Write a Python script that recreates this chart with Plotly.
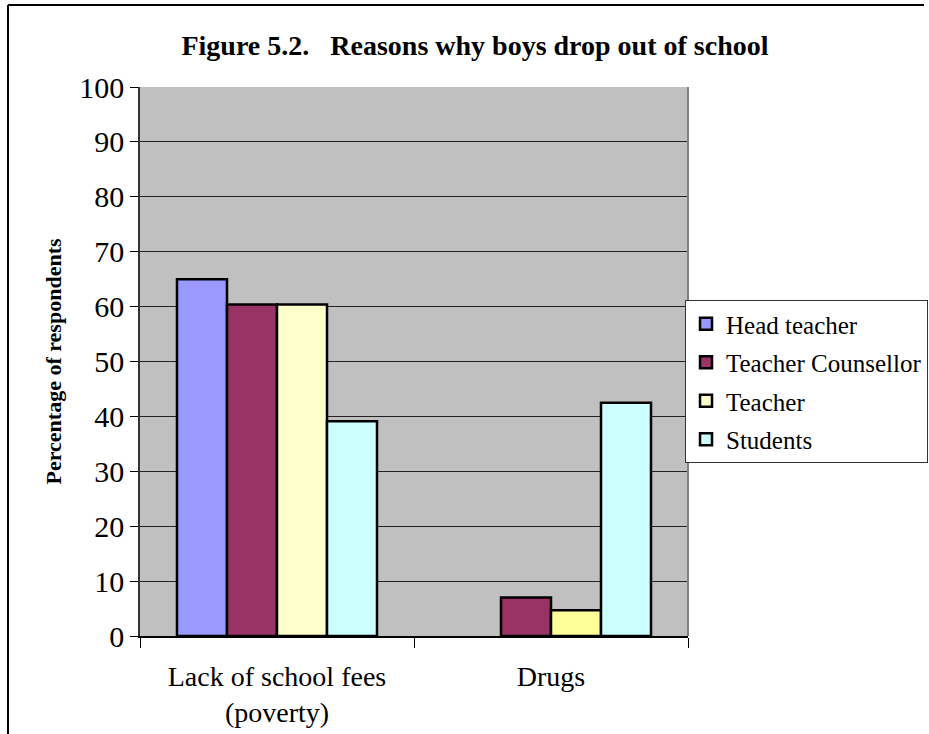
import plotly.graph_objects as go

categories = ["Lack of school fees<br>(poverty)", "Drugs"]
series_names = ["Head teacher", "Teacher Counsellor", "Teacher", "Students"]
head_teacher = [65.0, 0.0]
teacher_counsellor = [60.4, 7.0]
teacher = [60.4, 4.7]
students = [39.1, 42.5]
colors = ["#9999FF", "#993366", "#FFFFCC", "#CCFFFF"]
drug_teacher_color = "#FFFF99"
y_ticks = [0, 10, 20, 30, 40, 50, 60, 70, 80, 90, 100]

values = [head_teacher, teacher_counsellor, teacher, students]

fig = go.Figure()
for i, (name, vals) in enumerate(zip(series_names, values)):
    col = colors[i]
    mcol = [col, drug_teacher_color] if name == "Teacher" else col
    lw = [2.5 if v > 0 else 0 for v in vals]
    fig.add_trace(go.Bar(
        x=categories, y=vals, name=name, legendgroup=name,
        marker=dict(color=mcol, line=dict(color="black", width=lw)),
    ))

W, H = 929, 734
L, R, T, B = 140, 688, 87, 636
pw, ph = R - L, B - T

def px_x(p):
    return (p - L) / pw

def px_y(p):
    return (B - p) / ph

fig.update_layout(
    width=W, height=H,
    margin=dict(l=L, r=W - R, t=T, b=H - B, autoexpand=False),
    paper_bgcolor="white",
    plot_bgcolor="#C0C0C0",
    barmode="group",
    bargap=0.27,
    bargroupgap=0,
    font=dict(family="Liberation Serif, Times New Roman, serif", color="black"),
    title=dict(
        text="<b>Figure 5.2.   Reasons why boys drop out of school</b>",
        x=475 / W, xref="container", xanchor="center",
        y=1 - 45 / H, yref="container", yanchor="middle",
        font=dict(size=28, family="Liberation Serif", color="black"),
    ),
    legend=dict(
        x=px_x(685), y=px_y(300), xanchor="left", yanchor="top",
        bgcolor="white", bordercolor="#333333", borderwidth=1,
        font=dict(size=25, family="Liberation Serif", color="black"),
        traceorder="grouped", tracegroupgap=3,
    ),
    showlegend=True,
)

fig.update_yaxes(
    range=[0, 100], tickvals=y_ticks, ticks="outside", ticklen=8, tickcolor="black",
    tickfont=dict(size=30, family="Liberation Serif", color="black"),
    showgrid=True, gridcolor="#222222", gridwidth=1,
    showline=True, linecolor="#333333", linewidth=1.5,
    zeroline=False,
    title=dict(text="<b>Percentage of respondents</b>",
               font=dict(size=22, family="Liberation Serif", color="black"),
               standoff=12),
)
fig.update_xaxes(
    ticks="outside", tickson="boundaries", ticklen=10, tickcolor="black",
    tickfont=dict(size=28, family="Liberation Serif", color="black"),
    ticklabelstandoff=14,
    showline=True, linecolor="black", linewidth=2,
    showgrid=False,
)

# plot area right border
fig.add_shape(type="line", xref="paper", yref="paper", x0=1, x1=1, y0=0, y1=1,
              line=dict(color="#808080", width=2))
# outer chart border (top and left)
fig.add_shape(type="line", xref="paper", yref="paper",
              x0=px_x(8), x1=px_x(924), y0=px_y(5), y1=px_y(5),
              line=dict(color="black", width=2))
fig.add_shape(type="line", xref="paper", yref="paper",
              x0=px_x(8), x1=px_x(8), y0=px_y(5), y1=px_y(740),
              line=dict(color="black", width=2))

fig.write_html("out.html")
